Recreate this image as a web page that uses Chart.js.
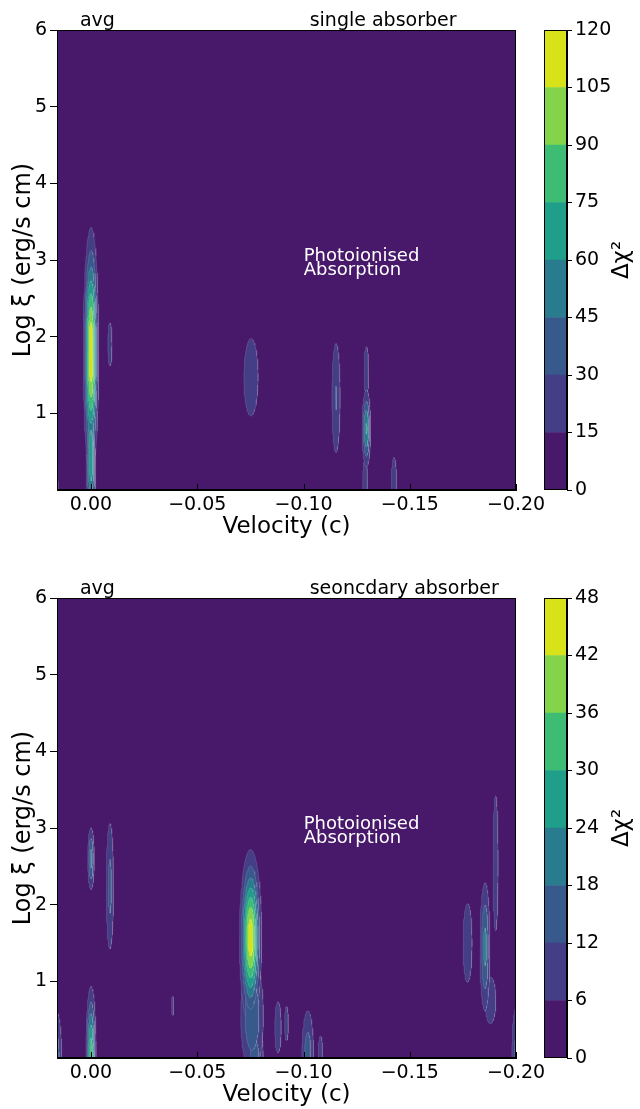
<!DOCTYPE html>
<html>
<head>
<meta charset="utf-8">
<script src="https://cdn.jsdelivr.net/npm/chart.js@4.4.0/dist/chart.umd.min.js"></script>
<style>
  html, body { margin: 0; padding: 0; background: #fff; overflow: hidden; }
  #wrap { position: relative; width: 640px; height: 1109px; overflow: hidden; }
  canvas { position: absolute; }
</style>
</head>
<body>
<div id="wrap">
  <canvas id="topMain" width="560" height="560" style="left:0;top:0"></canvas>
  <canvas id="topBar" width="100" height="560" style="left:540px;top:0"></canvas>
  <canvas id="botMain" width="560" height="560" style="left:0;top:568px"></canvas>
  <canvas id="botBar" width="100" height="560" style="left:540px;top:568px"></canvas>
</div>
<script>
// axis ticks
const velocityTicks = [0, -0.05, -0.10, -0.15, -0.20];
const logXiTicks = [1, 2, 3, 4, 5, 6];

// discrete viridis bands (one per contour interval)
const bandColors = ["#48186a", "#433e85", "#38598c", "#297b8e", "#1f9e89", "#3dbc74", "#84d44b", "#d8e219"];

// contour levels of delta chi^2
const topLevels = [0, 15, 30, 45, 60, 75, 90, 105, 120];
const botLevels = [0, 6, 12, 18, 24, 30, 36, 42, 48];

// top panel: peaks of delta chi^2 (centre velocity, centre log xi, widths, peak value)
const topVel   = [0.0,    0.0,    -0.0089, 0.0175, -0.0753, -0.1153, -0.1296, -0.1296, -0.1290, -0.1426];
const topXi    = [1.8,    0.45,   1.9,     0.0,    1.47,    1.2,     0.8,     1.55,    0.1,     0.0];
const topSigV  = [0.0018, 0.0013, 0.0013,  0.0023, 0.0033,  0.0016,  0.0012,  0.0011,  0.0012,  0.0013];
const topSigXi = [0.80,   0.55,   0.37,    0.64,   0.50,    0.59,    0.30,    0.33,    0.30,    0.42];
const topPeak  = [118,    72,     20,      22,     25,      31,      62,      24,      24,      25];

// bottom panel
const botVel   = [0.0,   -0.0089, 0.0,    0.017,  -0.0384, -0.0751, -0.0758, -0.0770, -0.088, -0.092, -0.102, -0.108, -0.1772, -0.1854, -0.188, -0.1904, -0.200];
const botXi    = [2.6,    2.24,   0.05,   0.0,    0.68,    1.57,    0.55,    0.0,     0.4,    0.45,   0.0,    0.0,    1.5,     1.45,    0.75,   2.54,    0.0];
const botSigV  = [0.001,  0.0013, 0.0013, 0.0022, 0.0007,  0.0026,  0.0036,  0.0030,  0.0015, 0.001,  0.002,  0.0012, 0.0021,  0.0015,  0.0025, 0.0013,  0.0015];
const botSigXi = [0.26,   0.63,   0.48,   0.44,   0.17,    0.57,    0.50,    0.35,    0.33,   0.25,   0.44,   0.32,   0.51,    0.54,    0.30,   0.98,    0.50];
const botPeak  = [20,     14,     33,     18,     8,       46,      18,      15,      10,     9,      16,     9,      10,      20,      10,     9,       14];

Chart.defaults.font.family = "'DejaVu Sans', sans-serif";
Chart.defaults.color = "#000";

// one closed contour per peak and level; chart.js paints dataset 0 last,
// so the highest levels go first in the list
function contourSets(vel, xi, sv, sx, peak, levels) {
  const shapes = [];
  for (let b = 0; b < vel.length; b++) {
    for (let k = 1; k < levels.length - 1; k++) {
      if (levels[k] >= peak[b]) break;
      const r = Math.sqrt(2 * Math.log(peak[b] / levels[k]));
      const pts = [];
      for (let i = 0; i <= 64; i++) {
        const t = i / 64 * 2 * Math.PI;
        pts.push({ x: vel[b] + sv[b] * r * Math.cos(t), y: xi[b] + sx[b] * r * Math.sin(t) });
      }
      shapes.push({ k, pts });
    }
  }
  shapes.sort((a, b) => b.k - a.k);
  return shapes.map(s => ({
    data: s.pts,
    showLine: true,
    fill: "shape",
    backgroundColor: bandColors[s.k],
    borderColor: "rgba(255,255,255,0.22)",
    borderWidth: 0.6,
    pointRadius: 0,
    tension: 0
  }));
}

const decor = {
  id: "decor",
  beforeDatasetsDraw(chart, args, opts) {
    if (!opts.bg) return;
    const a = chart.chartArea;
    chart.ctx.fillStyle = opts.bg;
    chart.ctx.fillRect(a.left, a.top, a.right - a.left, a.bottom - a.top);
  },
  afterDraw(chart, args, opts) {
    const { ctx, chartArea: a } = chart;
    ctx.save();
    ctx.strokeStyle = "#000";
    ctx.lineWidth = 1;
    ctx.strokeRect(a.left + 0.5, a.top + 0.5, a.right - a.left - 1, a.bottom - a.top - 1);
    if (opts.inTicks) {
      const xs = chart.scales.x;
      xs.ticks.forEach(t => {
        const px = Math.round(xs.getPixelForValue(t.value)) + 0.5;
        ctx.beginPath();
        ctx.moveTo(px, a.bottom);
        ctx.lineTo(px, a.bottom - 6);
        ctx.stroke();
      });
    }
    ctx.textAlign = "left";
    ctx.textBaseline = "alphabetic";
    (opts.texts || []).forEach(t => {
      ctx.font = t.size + "px 'DejaVu Sans', sans-serif";
      ctx.fillStyle = t.color;
      ctx.fillText(t.text, chart.scales.x.getPixelForValue(t.v), chart.scales.y.getPixelForValue(t.xi));
    });
    if (opts.sideLabel) {
      ctx.font = "23px 'DejaVu Sans', sans-serif";
      ctx.translate(82, (a.top + a.bottom) / 2);
      ctx.rotate(-Math.PI / 2);
      ctx.textAlign = "center";
      ctx.textBaseline = "middle";
      ctx.fillStyle = "#000";
      ctx.fillText(opts.sideLabel, 0, 0);
    }
    ctx.restore();
  }
};

function makeMain(id, vel, xi, sv, sx, peak, levels, rightText) {
  new Chart(document.getElementById(id), {
    type: "scatter",
    data: { datasets: contourSets(vel, xi, sv, sx, peak, levels) },
    plugins: [decor],
    options: {
      responsive: false,
      animation: false,
      layout: { padding: { top: 30, right: 44, left: 0, bottom: 0 } },
      plugins: {
        legend: { display: false },
        tooltip: { enabled: false },
        decor: {
          bg: bandColors[0],
          inTicks: true,
          texts: [
            { text: "avg", v: 0.0052, xi: 6.05, color: "#000", size: 19 },
            { text: rightText, v: -0.1029, xi: 6.05, color: "#000", size: 19 },
            { text: "Photoionised", v: -0.1001, xi: 2.99, color: "#fff", size: 18 },
            { text: "Absorption", v: -0.1001, xi: 2.81, color: "#fff", size: 18 }
          ]
        }
      },
      scales: {
        x: {
          type: "linear",
          min: -0.2,
          max: 0.016,
          reverse: true,
          afterBuildTicks: s => { s.ticks = velocityTicks.map(v => ({ value: v })); },
          afterFit: s => { s.height = 70; },
          ticks: {
            font: { size: 19 },
            padding: 4,
            maxRotation: 0,
            callback: v => (v === 0 ? "0.00" : "\u2212" + Math.abs(v).toFixed(2))
          },
          grid: { drawOnChartArea: false, drawTicks: false },
          border: { display: true, color: "#000" },
          title: { display: true, text: "Velocity (c)", font: { size: 23 }, padding: { top: 0, bottom: 19 } }
        },
        y: {
          min: 0,
          max: 6,
          afterBuildTicks: s => { s.ticks = logXiTicks.map(v => ({ value: v })); },
          afterFit: s => { s.width = 57; },
          ticks: { font: { size: 19 }, padding: 3 },
          grid: { drawOnChartArea: false, drawTicks: true, tickLength: 7, tickColor: "#000" },
          border: { display: true, color: "#000" },
          title: { display: true, text: "Log \u03be (erg/s cm)", font: { size: 24 }, padding: { top: 9, bottom: 0 } }
        }
      }
    }
  });
}

function makeBar(id, levels) {
  const datasets = [];
  for (let k = 0; k < levels.length - 1; k++) {
    datasets.push({
      data: [levels[k + 1] - levels[k]],
      backgroundColor: bandColors[k],
      borderWidth: 0,
      barPercentage: 1,
      categoryPercentage: 1
    });
  }
  new Chart(document.getElementById(id), {
    type: "bar",
    data: { labels: [""], datasets },
    plugins: [decor],
    options: {
      responsive: false,
      animation: false,
      layout: { padding: { top: 30, left: 4, bottom: 70, right: 0 } },
      plugins: {
        legend: { display: false },
        tooltip: { enabled: false },
        decor: { sideLabel: "\u0394\u03c7\u00b2" }
      },
      scales: {
        x: { stacked: true, display: false },
        y: {
          stacked: true,
          position: "right",
          min: levels[0],
          max: levels[levels.length - 1],
          afterBuildTicks: s => { s.ticks = levels.map(v => ({ value: v })); },
          afterFit: s => { s.width = 73; },
          ticks: { font: { size: 19 }, padding: 3 },
          grid: { drawOnChartArea: false, drawTicks: true, tickLength: 5, tickColor: "#000" },
          border: { display: true, color: "#000" }
        }
      }
    }
  });
}

makeMain("topMain", topVel, topXi, topSigV, topSigXi, topPeak, topLevels, "single absorber");
makeBar("topBar", topLevels);
makeMain("botMain", botVel, botXi, botSigV, botSigXi, botPeak, botLevels, "seoncdary absorber");
makeBar("botBar", botLevels);
</script>
</body>
</html>
